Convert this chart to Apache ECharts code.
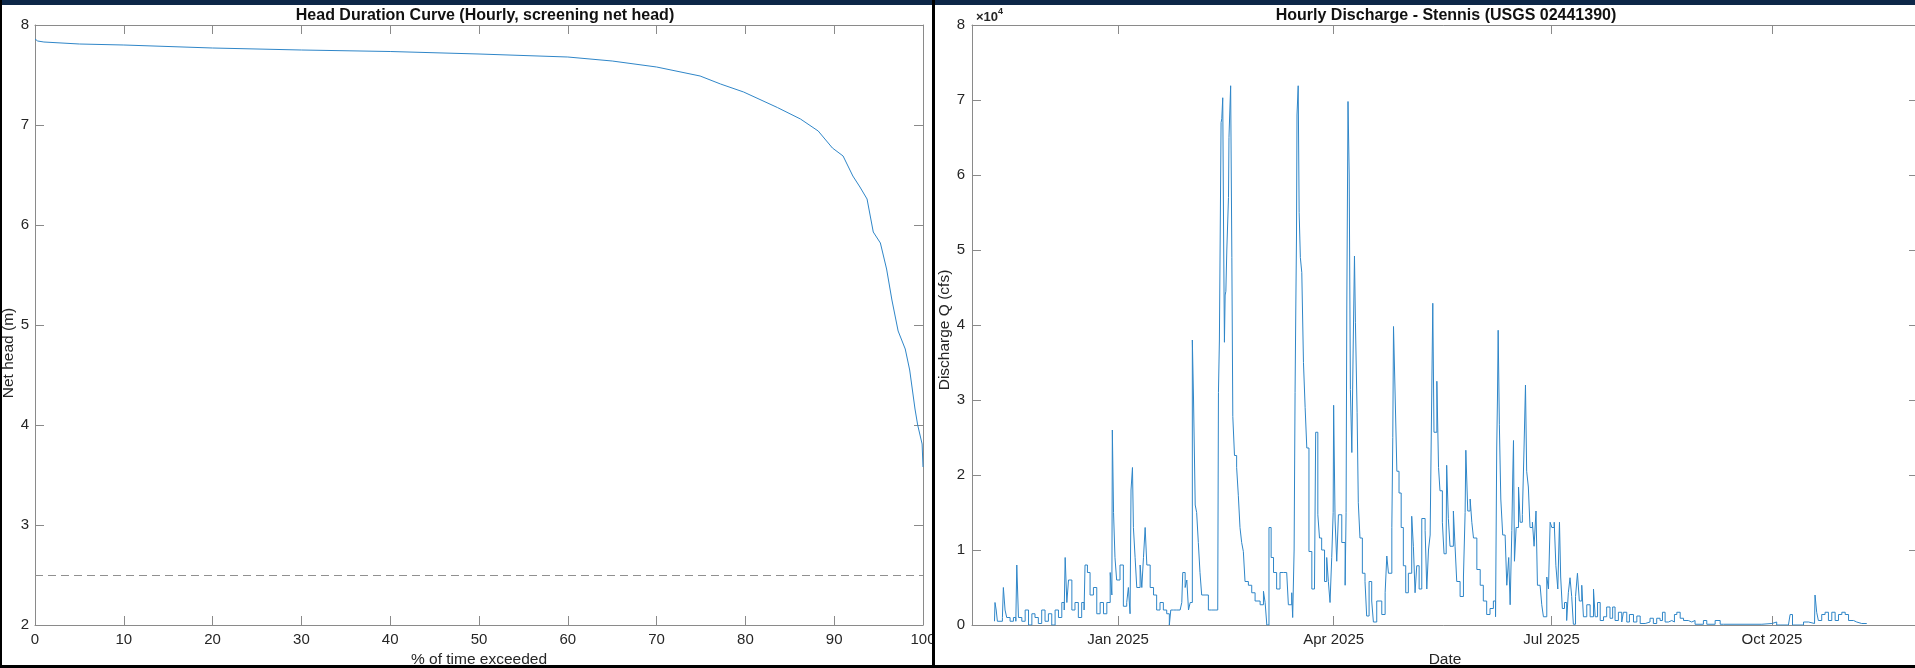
<!DOCTYPE html>
<html><head><meta charset="utf-8">
<script src="https://cdn.jsdelivr.net/npm/echarts@6/dist/echarts.min.js"></script>
<style>html,body{margin:0;padding:0;background:#fff;overflow:hidden}#c{width:1915px;height:668px}</style>
</head><body><div id="c"></div><script>
// ---------- DATA ----------
// Left panel: head duration curve  [% of time exceeded, net head (m)]
const headCurve = [
  [0,7.86],[0.3,7.84],[1,7.83],[5,7.81],[10,7.80],[20,7.77],[30,7.75],[40,7.735],[50,7.71],[60,7.68],
  [65,7.64],[70,7.58],[74.9,7.49],[77.2,7.41],[79.8,7.33],[83.6,7.175],[86.2,7.06],[88.2,6.94],[89.8,6.77],
  [91.0,6.69],[92.1,6.49],[92.9,6.38],[93.7,6.26],[94.4,5.93],[95.2,5.82],[95.9,5.56],[96.5,5.25],[97.2,4.94],
  [98.0,4.76],[98.5,4.55],[99.1,4.16],[99.4,4.0],[99.9,3.81],[100,3.58]
];
const headThreshold = 2.5;
const pctTicks = [0,10,20,30,40,50,60,70,80,90,100];
const headTicks = [2,3,4,5,6,7,8];

// Right panel: hourly discharge  [days after 2025-01-01, discharge Q (cfs)]
const dischargeByDay = [
  [-51.6,500],[-51.4,3000],[-50.9,2000],[-50.4,500],[-49.3,500],[-48.3,1000],[-47.9,5000],[-47.2,2000],[-46.5,1000],
  [-45.1,500],[-43.7,1000],[-42.7,500],[-42.3,8000],[-41.6,1000],[-40.2,500],[-38.8,2000],[-37.4,0],[-36.0,1500],
  [-34.7,1000],[-33.3,200],[-31.9,2000],[-30.5,500],[-29.1,1500],[-27.7,0],[-26.3,2000],[-24.9,1000],[-23.5,3000],
  [-22.5,2000],[-22.1,9000],[-21.4,3000],[-20.7,6000],[-19.3,2000],[-18.0,3000],[-16.6,1000],[-15.2,3000],[-14.2,2000],
  [-13.8,8000],[-12.8,7000],[-11.7,4000],[-10.3,5000],[-8.9,1500],[-7.5,3000],[-6.1,1500],[-4.7,3000],[-3.3,7000],
  [-2.6,4000],[-2.4,26000],[-1.9,15000],[-1.3,9000],[-0.6,6000],[0.8,8000],[2.2,2500],[3.6,3000],[4.3,5000],
  [5.0,1500],[5.4,18000],[6.0,21000],[6.4,13000],[7.1,9000],[7.8,5000],[9.2,8000],[9.9,5000],[10.6,9000],
  [11.3,13000],[12.0,8000],[13.4,5000],[14.8,4000],[16.1,2000],[17.5,3000],[18.9,2000],[20.3,1500],[21.4,0],
  [22.0,2000],[23.1,2000],[24.5,2000],[25.9,2000],[26.6,3000],[27.0,7000],[28.0,5000],[28.7,6000],[29.4,2000],
  [30.1,3000],[30.6,3000],[31.0,38000],[31.5,30000],[32.2,16000],[32.8,15000],[33.5,11000],[34.2,7000],[34.9,4000],
  [36.3,4000],[37.7,2000],[39.1,2000],[40.5,2000],[41.6,2000],[41.9,31000],[42.3,38000],[43.0,67000],[43.3,67500],
  [43.7,70300],[44.1,50000],[44.4,37700],[44.7,44000],[45.0,44500],[45.4,50000],[45.6,50000],[46.1,57000],[46.3,65000],
  [46.6,68000],[47.0,71900],[47.5,49000],[47.9,27800],[48.6,22600],[49.5,21000],[50.2,17300],[50.9,13000],[51.6,11000],
  [52.3,9800],[53.0,5800],[54.4,5300],[55.8,4300],[57.2,3200],[59.3,2700],[60.7,4500],[61.4,3000],[62.1,0],
  [63.0,13000],[63.9,9000],[64.9,7000],[66.2,4800],[67.6,7000],[69.0,7000],[70.4,7000],[71.1,2700],[72.5,4300],
  [72.9,1000],[73.5,10000],[73.9,31000],[74.2,42000],[74.5,52000],[74.7,68000],[75.2,71900],[75.6,55000],[76.1,49000],
  [76.7,47000],[77.4,35000],[78.1,29000],[78.8,23600],[79.7,9800],[80.9,4800],[82.0,4800],[82.5,25700],[83.4,14700],
  [84.1,11600],[85.0,10000],[86.2,5800],[87.1,9000],[87.8,5800],[88.5,3000],[89.2,9000],[89.8,15000],[90.0,29300],
  [90.6,14000],[91.3,8500],[92.0,14700],[93.4,11000],[94.8,5300],[95.2,15000],[95.5,42400],[96.0,69800],[96.5,60000],
  [97.0,31400],[97.6,23000],[98.1,35600],[98.7,49200],[99.1,40300],[99.8,28300],[100.3,16300],[101.0,11600],[102.0,6900],
  [103.1,5800],[103.8,1200],[104.8,5800],[105.9,3200],[106.6,400],[108.0,3200],[110.1,1400],[111.5,4300],[112.2,9200],
  [112.9,6900],[114.3,13000],[114.7,25000],[115.0,39800],[115.7,30400],[116.4,20500],[117.3,17600],[118.2,13000],[119.1,7900],
  [120.1,4300],[121.2,6900],[122.6,14500],[123.3,10500],[124.0,4300],[124.7,7900],[125.7,4800],[126.8,14200],[128.2,12600],
  [128.9,4800],[129.6,10000],[130.3,12000],[130.7,23600],[131.4,42900],[131.9,25700],[133.1,32500],[133.8,21000],[134.4,17900],
  [135.4,13700],[136.1,9500],[137.0,12000],[137.2,21300],[137.9,14200],[138.6,10500],[140.0,15200],[140.7,10500],[141.4,5800],
  [142.8,3800],[144.2,6400],[144.9,15000],[145.2,23300],[146.0,15200],[147.0,16800],[147.7,13700],[148.4,11600],[149.8,7400],
  [151.2,5300],[152.5,3200],[153.9,1400],[155.3,2200],[156.7,3200],[157.6,1100],[158.1,23600],[158.4,30000],[158.7,39300],
  [159.2,26700],[159.8,16800],[160.6,12000],[161.6,11900],[162.3,5300],[163.1,9000],[163.7,2700],[164.4,12600],[164.8,20000],
  [165.1,24600],[165.5,8500],[166.2,13000],[167.2,18400],[167.9,13700],[168.8,14700],[169.5,23600],[170.1,32000],[170.6,20500],
  [171.3,18400],[172.0,13000],[173.0,13700],[173.7,10500],[174.5,15200],[175.1,5300],[176.2,5300],[176.9,2700],[177.6,1100],
  [179.0,6400],[179.7,4800],[180.4,13700],[181.1,13000],[182.1,13700],[182.8,7900],[183.6,4800],[184.3,13700],[184.8,6400],
  [185.5,2200],[186.4,3000],[187.3,600],[188.0,4300],[188.7,6300],[189.4,3800],[190.1,100],[191.0,3800],[191.8,6900],
  [192.6,3200],[193.6,5300],[194.3,1100],[195.7,2700],[197.1,1100],[198.5,4800],[199.2,1100],[200.2,3000],[201.3,600],
  [202.7,1100],[204.0,2400],[205.4,900],[206.5,2400],[207.5,600],[208.9,1700],[210.3,400],[211.0,1700],[212.4,400],
  [213.5,1400],[215.2,400],[216.6,1200],[218.0,200],[220.1,400],[222.1,900],[223.5,200],[224.9,900],[226.3,600],
  [227.3,1700],[228.4,400],[229.8,600],[231.2,400],[232.3,1400],[233.3,1700],[234.7,900],[236.1,600],[238.1,400],
  [239.5,600],[240.9,100],[244.4,600],[245.8,100],[249.3,600],[251.4,100],[252.8,100],[268.8,200],[273.0,400],
  [275.0,0],[276.4,0],[279.9,200],[280.6,1400],[281.6,0],[286.2,400],[288.3,200],[290.8,200],[291.0,4000],
  [291.7,1700],[292.4,600],[293.8,1400],[295.2,1700],[296.6,600],[298.0,1700],[299.4,600],[300.8,1400],[302.2,1700],
  [303.6,1400],[305.0,600],[307.1,400],[308.4,200],[310.5,200],[312.6,200]
];
const dateAxisStart = '2024-11-01';
const dateAxisEnd = '2025-12-01';
const dateTickDates = ['2025-01-01','2025-04-01','2025-07-01','2025-10-01'];
const dateTickLabels = ['Jan 2025','Apr 2025','Jul 2025','Oct 2025'];
const qTicks = [0,10000,20000,30000,40000,50000,60000,70000,80000];

// ---------- CHART ----------
const DAY = 86400000;
function ts(s){ const p = s.split('-').map(Number); return Date.UTC(p[0], p[1]-1, p[2]); }
const t0 = ts('2025-01-01');
const tickTimes = dateTickDates.map(ts);
const dischargeData = dischargeByDay.map(([d, q]) => [t0 + d * DAY, q]);

const FONT = "'Liberation Sans', Arial, Helvetica, sans-serif";
const AX = '#8a8a8a';
const TXT = '#262626';
const LINE = '#2f86c8';
const TICKFS = 15;
const NAMEFS = 15.5;

function axisBase(extra){
  return Object.assign({
    axisLine: {show: true, onZero: false, lineStyle: {color: AX, width: 1}},
    axisTick: {show: true, inside: true, length: 9, lineStyle: {color: AX, width: 1}},
    axisLabel: {color: TXT, fontSize: TICKFS, fontFamily: FONT},
    splitLine: {show: false},
    nameTextStyle: {color: TXT, fontSize: NAMEFS, fontFamily: FONT}
  }, extra);
}
function mirror(extra){
  const a = axisBase(extra);
  a.axisLabel = Object.assign({}, a.axisLabel, {show: false});
  a.name = '';
  return a;
}
function dateLabel(v){
  let best = 0;
  for (let i = 1; i < tickTimes.length; i++) if (Math.abs(tickTimes[i]-v) < Math.abs(tickTimes[best]-v)) best = i;
  return dateTickLabels[best];
}

const chart = echarts.init(document.getElementById('c'), null, {renderer: 'canvas'});
chart.setOption({
  animation: false,
  backgroundColor: '#ffffff',
  title: [
    {text: 'Head Duration Curve (Hourly, screening net head)', left: 480, top: 3, textAlign: 'center',
     textStyle: {fontSize: 16, fontWeight: 'bold', color: '#111', fontFamily: FONT}},
    {text: 'Hourly Discharge - Stennis (USGS 02441390)', left: 1441, top: 3, textAlign: 'center',
     textStyle: {fontSize: 16, fontWeight: 'bold', color: '#111', fontFamily: FONT}},
    {text: '{b|×10}{s|4}', left: 971, top: 2,
     textStyle: {rich: {b: {fontSize: 13, color: TXT, fontFamily: FONT, lineHeight: 17, verticalAlign: 'bottom'},
                        s: {fontSize: 9, color: TXT, fontFamily: FONT, lineHeight: 17, verticalAlign: 'top'}}}}
  ],
  grid: [
    {left: 35, top: 25, width: 888, height: 600, containLabel: false, outerBoundsMode: 'none'},
    {left: 972, top: 25, width: 946, height: 600, containLabel: false, outerBoundsMode: 'none'}
  ],
  xAxis: [
    axisBase({type: 'value', gridIndex: 0, position: 'bottom', min: pctTicks[0], max: pctTicks[pctTicks.length-1],
      interval: pctTicks[1]-pctTicks[0], name: '% of time exceeded', nameLocation: 'middle', nameGap: 27,
      axisLabel: {color: TXT, fontSize: TICKFS, fontFamily: FONT, margin: 7}}),
    mirror({type: 'value', gridIndex: 0, position: 'top', min: pctTicks[0], max: pctTicks[pctTicks.length-1],
      interval: pctTicks[1]-pctTicks[0]}),
    axisBase({type: 'value', gridIndex: 1, position: 'bottom', min: ts(dateAxisStart), max: ts(dateAxisEnd),
      name: 'Date', nameLocation: 'middle', nameGap: 27,
      axisTick: {show: true, inside: true, length: 9, customValues: tickTimes, lineStyle: {color: AX, width: 1}},
      axisLabel: {color: TXT, fontSize: TICKFS, fontFamily: FONT, margin: 7, customValues: tickTimes, formatter: dateLabel}}),
    axisBase({type: 'value', gridIndex: 1, position: 'top', min: ts(dateAxisStart), max: ts(dateAxisEnd),
      axisTick: {show: true, inside: true, length: 9, customValues: tickTimes, lineStyle: {color: AX, width: 1}},
      axisLabel: {show: false, customValues: tickTimes}})
  ],
  yAxis: [
    axisBase({type: 'value', gridIndex: 0, position: 'left', min: headTicks[0], max: headTicks[headTicks.length-1],
      interval: 1, name: 'Net head (m)', nameLocation: 'middle', nameGap: 17,
      nameTextStyle: {color: TXT, fontSize: NAMEFS, fontFamily: FONT, padding: [0, 56, 0, 0]},
      axisLabel: {color: TXT, fontSize: TICKFS, fontFamily: FONT, margin: 6}}),
    mirror({type: 'value', gridIndex: 0, position: 'right', min: headTicks[0], max: headTicks[headTicks.length-1], interval: 1}),
    axisBase({type: 'value', gridIndex: 1, position: 'left', min: qTicks[0], max: qTicks[qTicks.length-1],
      interval: qTicks[1]-qTicks[0], name: 'Discharge Q (cfs)', nameLocation: 'middle', nameGap: 19,
      nameTextStyle: {color: TXT, fontSize: NAMEFS, fontFamily: FONT, padding: [0, 10, 0, 0]},
      axisLabel: {color: TXT, fontSize: TICKFS, fontFamily: FONT, margin: 7, formatter: v => String(v / 10000)}}),
    mirror({type: 'value', gridIndex: 1, position: 'right', min: qTicks[0], max: qTicks[qTicks.length-1], interval: qTicks[1]-qTicks[0]})
  ],
  series: [
    {type: 'line', xAxisIndex: 0, yAxisIndex: 0, data: headCurve, showSymbol: false, symbol: 'none',
     lineStyle: {color: LINE, width: 1}, z: 3,
     markLine: {silent: true, symbol: ['none','none'], label: {show: false},
       lineStyle: {type: [8,5], color: '#909090', width: 1}, data: [{yAxis: headThreshold}]}},
    {type: 'line', xAxisIndex: 2, yAxisIndex: 2, data: dischargeData, step: 'end', showSymbol: false, symbol: 'none',
     lineStyle: {color: LINE, width: 1}, z: 3}
  ],
  graphic: [
    {type: 'rect', z: 100, shape: {x: 0, y: 0, width: 1915, height: 5}, style: {fill: '#0d2748'}},
    {type: 'rect', z: 100, shape: {x: 0, y: 0, width: 2, height: 668}, style: {fill: '#000'}},
    {type: 'rect', z: 100, shape: {x: 932, y: 0, width: 3, height: 668}, style: {fill: '#000'}},
    {type: 'rect', z: 100, shape: {x: 0, y: 665, width: 1915, height: 3}, style: {fill: '#000'}}
  ]
});
</script></body></html>
